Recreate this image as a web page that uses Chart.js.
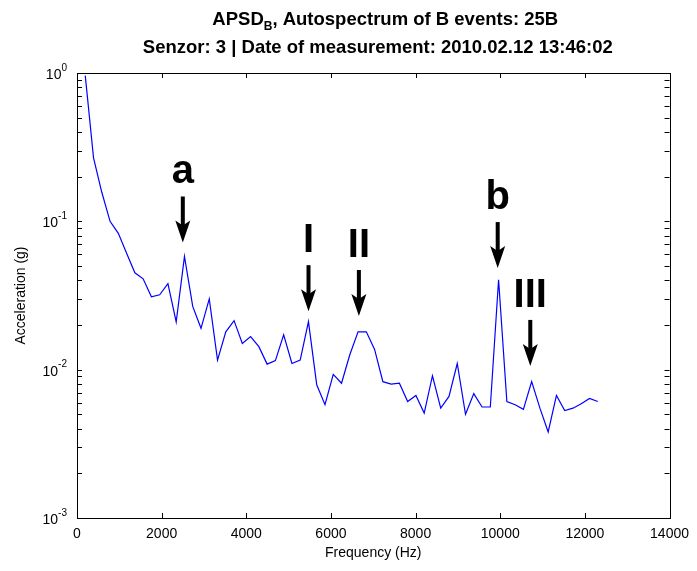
<!DOCTYPE html>
<html><head><meta charset="utf-8">
<script src="https://cdn.jsdelivr.net/npm/chart.js@4/dist/chart.umd.min.js"></script>
<style>html,body{margin:0;padding:0;background:#fff}#wrap{width:697px;height:571px;position:relative}</style>
</head><body><div id="wrap"><canvas id="c"></canvas></div>
<script>
// ---- data ----
const frequencies = [195.3, 390.6, 585.9, 781.3, 976.6, 1171.9, 1367.2, 1562.5, 1757.8, 1953.1,
  2148.4, 2343.8, 2539.1, 2734.4, 2929.7, 3125.0, 3320.3, 3515.6, 3710.9, 3906.3,
  4101.6, 4296.9, 4492.2, 4687.5, 4882.8, 5078.1, 5273.4, 5468.8, 5664.1, 5859.4,
  6054.7, 6250.0, 6445.3, 6640.6, 6835.9, 7031.3, 7226.6, 7421.9, 7617.2, 7812.5,
  8007.8, 8203.1, 8398.4, 8593.8, 8789.1, 8984.4, 9179.7, 9375.0, 9570.3, 9765.6,
  9960.9, 10156.3, 10351.6, 10546.9, 10742.2, 10937.5, 11132.8, 11328.1, 11523.4, 11718.8,
  11914.1, 12109.4, 12304.7];
const acceleration = [0.96, 0.268, 0.157, 0.100, 0.083, 0.061, 0.045, 0.041, 0.031, 0.032,
  0.038, 0.021, 0.058, 0.0267, 0.019, 0.030, 0.0116, 0.018, 0.0214, 0.015,
  0.0167, 0.0143, 0.0109, 0.0115, 0.0172, 0.011, 0.0116, 0.0211, 0.0079, 0.0058,
  0.0093, 0.0081, 0.0126, 0.018, 0.018, 0.0137, 0.0083, 0.0080, 0.0081, 0.0061,
  0.0067, 0.0051, 0.0091, 0.0055, 0.0066, 0.011, 0.0050, 0.0069, 0.0056, 0.0056,
  0.0404, 0.0061, 0.0058, 0.0054, 0.0083, 0.0055, 0.0038, 0.0067, 0.0053, 0.0055,
  0.0059, 0.0064, 0.0061];
const xTickValues = [0, 2000, 4000, 6000, 8000, 10000, 12000, 14000];
const yDecades = [1, 0.1, 0.01, 0.001];
const yDecadeExponents = ['0', '-1', '-2', '-3'];
const markerLabels = ['a', 'I', 'II', 'b', 'III'];
const markerFreqs = [2500, 5470, 6660, 9940, 10710];
const markerTipValues = [0.072, 0.0248, 0.023, 0.0484, 0.0106];
const titleMain = 'APSD';
const titleSub = 'B';
const titleRest = ', Autospectrum of B events: 25B';
const subtitle = 'Senzor: 3 | Date of measurement: 2010.02.12 13:46:02';
const xTitle = 'Frequency (Hz)';
const yTitle = 'Acceleration (g)';

const AX_FONT = "'Liberation Sans', Arial, sans-serif";
const TITLE_FONT = "'Liberation Sans', Arial, sans-serif";

const decor = {
  id: 'decor',
  afterDraw(chart) {
    const ctx = chart.ctx, a = chart.chartArea;
    const xs = chart.scales.x, ys = chart.scales.y;
    ctx.save();
    // box
    ctx.strokeStyle = '#000'; ctx.lineWidth = 1;
    ctx.strokeRect(Math.round(a.left) + 0.5, Math.round(a.top) + 0.5,
      Math.round(a.right - a.left), Math.round(a.bottom - a.top));
    // x ticks (inward, bottom and top)
    ctx.beginPath();
    xTickValues.forEach(v => {
      const x = Math.round(xs.getPixelForValue(v)) + 0.5;
      ctx.moveTo(x, a.bottom); ctx.lineTo(x, a.bottom - 5);
      ctx.moveTo(x, a.top); ctx.lineTo(x, a.top + 5);
    });
    // y ticks: decades and minors
    for (let e = -3; e < 0; e++) {
      for (let m = 1; m <= 9; m++) {
        const v = m * Math.pow(10, e);
        const y = Math.round(ys.getPixelForValue(v)) + 0.5;
        ctx.moveTo(a.left, y); ctx.lineTo(a.left + 5, y);
        ctx.moveTo(a.right, y); ctx.lineTo(a.right - 5, y);
      }
    }
    ctx.stroke();
    // y tick labels with superscripts
    ctx.fillStyle = '#000';
    ctx.textBaseline = 'middle';
    yDecades.forEach((v, i) => {
      const y = ys.getPixelForValue(v);
      const exp = yDecadeExponents[i];
      ctx.font = '14px ' + AX_FONT;
      const wb = ctx.measureText('10').width;
      ctx.font = '10px ' + AX_FONT;
      const we = ctx.measureText(exp).width;
      const xr = a.left - 10;
      ctx.textAlign = 'left';
      ctx.font = '14px ' + AX_FONT;
      ctx.fillText('10', xr - we - wb, y + 2);
      ctx.font = '10px ' + AX_FONT;
      ctx.fillText(exp, xr - we, y - 5);
    });
    // title
    const cx = (a.left + a.right) / 2;
    ctx.textBaseline = 'alphabetic';
    ctx.textAlign = 'left';
    const f1 = 'bold 18.5px ' + TITLE_FONT, fs = 'bold 12px ' + TITLE_FONT;
    ctx.font = f1; const w1 = ctx.measureText(titleMain).width;
    const w3 = ctx.measureText(titleRest).width;
    ctx.font = fs; const w2 = ctx.measureText(titleSub).width;
    let x0 = cx + 12 - (w1 + w2 + w3) / 2;
    ctx.font = f1; ctx.fillText(titleMain, x0, 25);
    ctx.font = fs; ctx.fillText(titleSub, x0 + w1, 30);
    ctx.font = f1; ctx.fillText(titleRest, x0 + w1 + w2, 25);
    ctx.textAlign = 'center';
    ctx.fillText(subtitle, cx + 4.5, 53);
    // markers: labels + arrows
    markerLabels.forEach((lab, i) => {
      const x = xs.getPixelForValue(markerFreqs[i]);
      const tip = ys.getPixelForValue(markerTipValues[i]);
      const top = tip - 46;
      ctx.fillStyle = '#000';
      ctx.fillRect(x - 2, top, 4, 30);
      ctx.beginPath();
      ctx.moveTo(x, tip);
      ctx.lineTo(x - 7.5, tip - 22);
      ctx.lineTo(x, tip - 17);
      ctx.lineTo(x + 7.5, tip - 22);
      ctx.closePath();
      ctx.fill();
      ctx.font = 'bold 40px ' + AX_FONT;
      ctx.textAlign = 'center';
      ctx.textBaseline = 'alphabetic';
      ctx.fillText(lab, x, top - 13);
    });
    ctx.restore();
  }
};

new Chart(document.getElementById('c'), {
  type: 'line',
  data: {
    datasets: [{
      data: frequencies.map((f, i) => ({ x: f, y: acceleration[i] })),
      borderColor: '#0000ff',
      borderWidth: 1.2,
      pointRadius: 0,
      tension: 0,
      fill: false
    }]
  },
  options: {
    responsive: true,
    maintainAspectRatio: false,
    animation: false,
    layout: { padding: { left: 0, right: 25, top: 73, bottom: 0 } },
    plugins: { legend: { display: false }, tooltip: { enabled: false }, title: { display: false } },
    scales: {
      x: {
        type: 'linear', min: 0, max: 14000,
        afterBuildTicks(s) { s.ticks = xTickValues.map(v => ({ value: v })); },
        afterFit(s) { s.height = 53; },
        grid: { display: false, drawTicks: false },
        border: { display: false },
        ticks: { color: '#000', padding: 8, maxRotation: 0, autoSkip: false,
          font: { family: AX_FONT, size: 14 }, callback: v => String(v) },
        title: { display: true, text: xTitle, color: '#000',
          font: { family: AX_FONT, size: 14 }, padding: { top: 0, bottom: 9 } }
      },
      y: {
        type: 'logarithmic', min: 0.001, max: 1,
        afterFit(s) { s.width = 77; },
        grid: { display: false, drawTicks: false },
        border: { display: false },
        ticks: { display: false },
        title: { display: true, text: yTitle, color: '#000',
          font: { family: AX_FONT, size: 14 }, padding: { top: 13, bottom: 0 } }
      }
    }
  },
  plugins: [decor]
});
</script>
</body></html>
